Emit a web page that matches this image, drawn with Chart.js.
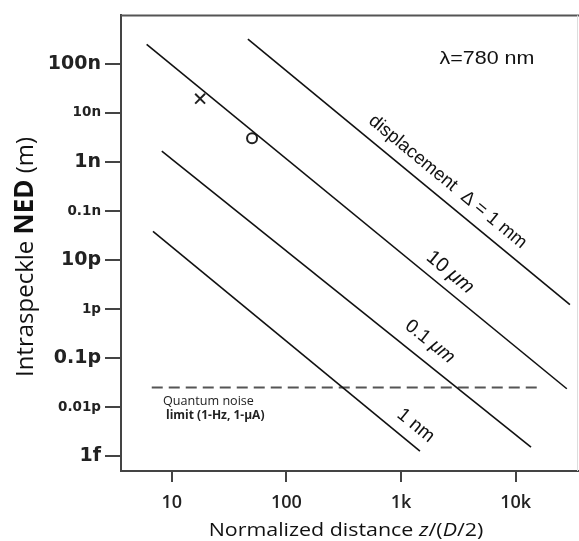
<!DOCTYPE html>
<html>
<head>
<meta charset="utf-8">
<script src="https://cdn.jsdelivr.net/npm/chart.js@4"></script>
<style>
  html, body { margin: 0; padding: 0; background: #fff; }
  #wrap { width: 579px; height: 541px; }
</style>
</head>
<body>
<div id="wrap"><canvas id="chart" width="579" height="541"></canvas></div>
<script>
// values (z in units of D/2, NED in metres)
const lineNames = ['1 mm', '10 \u03bcm', '0.1 \u03bcm', '1 nm'];
const lineZ = [[46.2, 29700], [6.05, 27900], [8.2, 13600], [6.87, 1462]];
const lineNED = [[3.2e-7, 1.23e-12], [2.5e-7, 2.37e-14], [1.67e-9, 1.52e-15], [3.86e-11, 1.26e-15]];
const noiseZ = [6.7, 16800];
const noiseNED = [2.5e-14, 2.5e-14];
const markerZ = [17.7, 50.2];
const markerNED = [1.96e-8, 3.05e-9];
const xTickValues = [10, 100, 1000, 10000];
const xTickLabels = ['10', '100', '1k', '10k'];
const yTickValues = [1e-15, 1e-14, 1e-13, 1e-12, 1e-11, 1e-10, 1e-9, 1e-8, 1e-7];
const yTickLabels = ['1f', '0.01p', '0.1p', '1p', '10p', '0.1n', '1n', '10n', '100n'];

const xMin = Math.pow(10, 0.558), xMax = Math.pow(10, 4.552);
const yMin = Math.pow(10, -15.303), yMax = Math.pow(10, -6.01);

const datasets = lineZ.map((zs, i) => ({
    type: 'line',
    label: lineNames[i],
    data: zs.map((z, j) => ({ x: z, y: lineNED[i][j] })),
    borderColor: '#111',
    borderWidth: 1.6,
    pointRadius: 0,
    fill: false
}));
datasets.push({
    type: 'line',
    label: 'noise',
    data: noiseZ.map((z, j) => ({ x: z, y: noiseNED[j] })),
    borderColor: '#555',
    borderWidth: 2,
    borderDash: [11, 6],
    pointRadius: 0,
    fill: false
});
datasets.push({
    type: 'scatter',
    label: 'markers',
    data: markerZ.map((z, j) => ({ x: z, y: markerNED[j] })),
    pointStyle: ['crossRot', 'circle'],
    pointRadius: [7, 5],
    pointBorderWidth: 2,
    pointBorderColor: '#222',
    pointBackgroundColor: '#fff'
});

// helper: draw a row of text pieces with different fonts, centred on 0,0
function drawPieces(ctx, pieces, stretch) {
    const sx = stretch || 1;
    let total = 0;
    pieces.forEach(p => { ctx.font = p[1]; total += ctx.measureText(p[0]).width; });
    ctx.save();
    ctx.scale(sx, 1);
    let x = -total / 2;
    pieces.forEach(p => {
        ctx.font = p[1];
        ctx.textAlign = 'left';
        ctx.fillText(p[0], x, 0);
        x += ctx.measureText(p[0]).width;
    });
    ctx.restore();
}

const lineLabels = [
    { ds: 0, z: 2055, off: 17, pieces: [['displacement  \u0394 = 1 mm', '18.5px "Liberation Sans"']] },
    { ds: 1, z: 2184, off: 16, pieces: [['10 ', '20px "Liberation Sans"'], ['\u03bcm', 'italic 20px "Liberation Sans"']] },
    { ds: 2, z: 1407, off: 19, pieces: [['0.1 ', '19px "Liberation Sans"'], ['\u03bcm', 'italic 19px "Liberation Sans"']] },
    { ds: 3, z: 1080, off: 17, pieces: [['1 nm', '19px "Liberation Sans"']] }
];

const annotations = {
    id: 'annotations',
    afterDatasetsDraw(chart) {
        const ctx = chart.ctx;
        const xs = chart.scales.x;
        const area = chart.chartArea;
        ctx.save();
        ctx.fillStyle = '#111';
        ctx.textBaseline = 'middle';
        lineLabels.forEach(l => {
            const pts = chart.getDatasetMeta(l.ds).data;
            const p0 = pts[0], p1 = pts[1];
            const ang = Math.atan2(p1.y - p0.y, p1.x - p0.x);
            const px = xs.getPixelForValue(l.z);
            const t = (px - p0.x) / (p1.x - p0.x);
            const py = p0.y + t * (p1.y - p0.y);
            ctx.save();
            ctx.translate(px + Math.sin(ang) * l.off, py - Math.cos(ang) * l.off);
            ctx.rotate(ang);
            drawPieces(ctx, l.pieces);
            ctx.restore();
        });

        // wavelength note
        ctx.save();
        ctx.translate(487, 59);
        drawPieces(ctx, [['\u03bb=780 nm', '18.5px "Liberation Sans"']], 1.16);
        ctx.restore();

        // quantum noise note
        ctx.fillStyle = '#222';
        ctx.textAlign = 'left';
        ctx.font = '12.6px "Open Sans"';
        ctx.fillText('Quantum noise', 163, 401);
        ctx.font = 'bold 12px "Open Sans"';
        ctx.fillText('limit (1-Hz, 1-\u03bcA)', 166, 416);

        // top frame line
        ctx.strokeStyle = '#555';
        ctx.lineWidth = 2;
        ctx.beginPath();
        ctx.moveTo(area.left, area.top);
        ctx.lineTo(area.right, area.top);
        ctx.stroke();
        ctx.strokeStyle = '#ddd';
        ctx.lineWidth = 1;
        ctx.beginPath();
        ctx.moveTo(area.right - 1.5, area.top);
        ctx.lineTo(area.right - 1.5, area.bottom);
        ctx.stroke();

        // axis titles
        ctx.fillStyle = '#111';
        ctx.save();
        ctx.translate(26, 257);
        ctx.rotate(-Math.PI / 2);
        drawPieces(ctx, [
            ['Intraspeckle ', '24px "Open Sans"'],
            ['NED', 'bold 26px "Open Sans"'],
            [' (m)', '24px "Open Sans"']
        ]);
        ctx.restore();

        ctx.save();
        ctx.translate(346, 531);
        drawPieces(ctx, [
            ['Normalized distance ', '18px "Open Sans"'],
            ['z', 'italic 18px "Open Sans"'],
            ['/(', '18px "Open Sans"'],
            ['D', 'italic 18px "Open Sans"'],
            ['/2)', '18px "Open Sans"']
        ], 1.19);
        ctx.restore();
        ctx.restore();
    }
};

new Chart(document.getElementById('chart'), {
    data: { datasets: datasets },
    options: {
        responsive: false,
        animation: false,
        layout: { autoPadding: false, padding: { top: 11, right: 0, left: 0, bottom: 0 } },
        plugins: { legend: { display: false }, tooltip: { enabled: false } },
        scales: {
            x: {
                type: 'logarithmic',
                min: xMin, max: xMax,
                afterFit: s => { s.height = 70; },
                afterBuildTicks: s => { s.ticks = xTickValues.map(v => ({ value: v })); },
                border: { display: true, color: '#444', width: 2 },
                grid: { drawOnChartArea: false, drawTicks: true, tickLength: 11, color: '#444', lineWidth: 2 },
                ticks: {
                    autoSkip: false, maxRotation: 0, padding: 10, color: '#222',
                    font: { family: 'Open Sans', size: 18, weight: '600' },
                    callback: (v, i) => xTickLabels[i]
                }
            },
            y: {
                type: 'logarithmic',
                min: yMin, max: yMax,
                afterFit: s => { s.width = 121; },
                afterBuildTicks: s => { s.ticks = yTickValues.map(v => ({ value: v })); },
                border: { display: true, color: '#444', width: 2 },
                grid: { drawOnChartArea: false, drawTicks: true, tickLength: 16, color: '#444', lineWidth: 2 },
                ticks: {
                    autoSkip: false, padding: 4, color: '#222',
                    font: ctx => ({ family: 'DejaVu Sans', size: ctx.index % 2 === 0 ? 19 : 13.5, weight: 'bold' }),
                    callback: (v, i) => yTickLabels[i]
                }
            }
        }
    },
    plugins: [annotations]
});
</script>
</body>
</html>
